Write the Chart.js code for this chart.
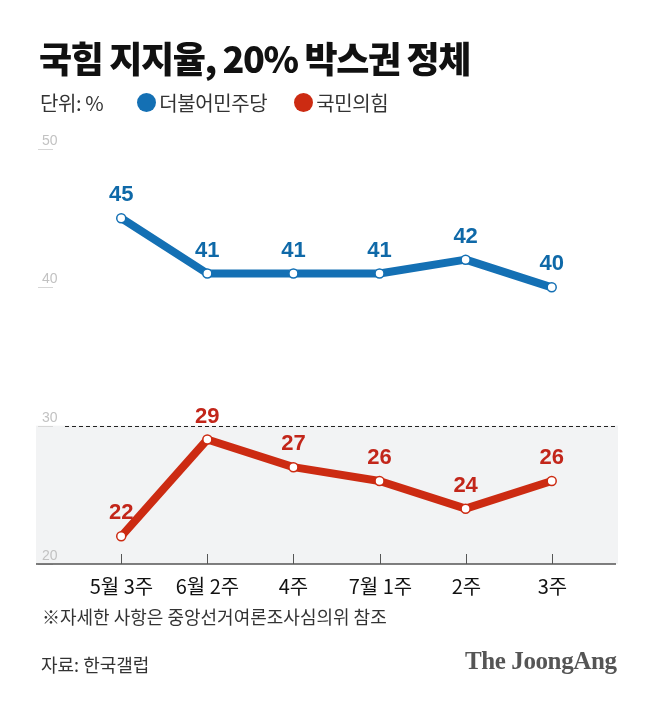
<!DOCTYPE html>
<html>
<head>
<meta charset="utf-8">
<script src="https://cdn.jsdelivr.net/npm/chart.js@4"></script>
<style>
  body { margin: 0; background: #fff; width: 658px; height: 703px; overflow: hidden; position: relative; font-family: "Noto Sans CJK KR", sans-serif; }
  #wrap { position: absolute; left: 0; top: 0; width: 658px; height: 703px; }
  .txt { position: absolute; white-space: nowrap; }
  #title { left: 39px; top: 31px; font-size: 36px; font-weight: 900; color: #111; letter-spacing: -1.4px; }
  #legend { left: 40px; top: 88px; font-size: 20px; color: #333; letter-spacing: -0.4px; display: flex; align-items: center; }
  .dot { display: inline-block; width: 19px; height: 19px; border-radius: 50%; margin-right: 3px; }
  #note { left: 42px; top: 603px; font-size: 18px; color: #333; letter-spacing: 0px; }
  #source { left: 41px; top: 651px; font-size: 18px; color: #333; letter-spacing: 0px; }
  #logo { left: 465px; top: 647px; font-size: 25px; font-weight: 700; color: #555; font-family: "Liberation Serif", serif; letter-spacing: -0.4px; }
</style>
</head>
<body>
<div id="wrap"><canvas id="mycanvas" width="658" height="703"></canvas></div>
<div class="txt" id="title">국힘 지지율, 20% 박스권 정체</div>
<div class="txt" id="legend">
  <span>단위:&nbsp;%</span>
  <span class="dot" style="background:#1470b4;margin-left:34px"></span><span>더불어민주당</span>
  <span class="dot" style="background:#cc2b12;margin-left:27px"></span><span>국민의힘</span>
</div>
<div class="txt" id="note">※자세한 사항은 중앙선거여론조사심의위 참조</div>
<div class="txt" id="source">자료: 한국갤럽</div>
<div class="txt" id="logo">The JoongAng</div>
<script>
var weeks = ['5월 3주', '6월 2주', '4주', '7월 1주', '2주', '3주'];
var minjoo = [45, 41, 41, 41, 42, 40];
var ppp = [22, 29, 27, 26, 24, 26];
var yTicks = [50, 40, 30, 20];

var blue = '#1470b4';
var red = '#cc2b12';

function pts(vals) {
  var out = [];
  for (var i in vals) {
    out.push({ x: Number(i), y: vals[i] });
  }
  return out;
}

// gray band, dashed line, base line, axis labels
var backdrop = {
  id: 'backdrop',
  beforeDatasetsDraw: function(chart) {
    var ctx = chart.ctx;
    var a = chart.chartArea;
    var x = chart.scales.x;
    var y = chart.scales.y;
    ctx.save();

    ctx.fillStyle = '#f2f3f4';
    ctx.fillRect(a.left, y.getPixelForValue(30), a.right - a.left, y.getPixelForValue(20) - y.getPixelForValue(30));

    ctx.strokeStyle = '#222';
    ctx.lineWidth = 1;
    ctx.setLineDash([4, 3]);
    ctx.beginPath();
    ctx.moveTo(a.left + 29, Math.round(y.getPixelForValue(30)) + 0.5);
    ctx.lineTo(a.right, Math.round(y.getPixelForValue(30)) + 0.5);
    ctx.stroke();
    ctx.setLineDash([]);

    // y labels
    ctx.font = '14px "Liberation Sans", sans-serif';
    ctx.textAlign = 'left';
    ctx.textBaseline = 'alphabetic';
    for (var t of yTicks) {
      var py = Math.round(y.getPixelForValue(t));
      ctx.fillStyle = '#c2c2c2';
      ctx.fillText(String(t), a.left + 6, py - 4);
      ctx.strokeStyle = '#d6d6d6';
      ctx.beginPath();
      ctx.moveTo(a.left + 2, py + 0.5);
      ctx.lineTo(a.left + 17, py + 0.5);
      ctx.stroke();
    }

    // base line and ticks
    var by = Math.round(y.getPixelForValue(20));
    ctx.strokeStyle = '#555';
    ctx.lineWidth = 1.5;
    ctx.beginPath();
    ctx.moveTo(a.left, by);
    ctx.lineTo(a.right - 2, by);
    ctx.stroke();
    ctx.lineWidth = 1;
    ctx.font = '20px "Noto Sans CJK KR", sans-serif';
    ctx.textAlign = 'center';
    ctx.textBaseline = 'middle';
    ctx.fillStyle = '#111';
    for (var i in weeks) {
      var px = Math.round(x.getPixelForValue(Number(i))) + 0.5;
      ctx.beginPath();
      ctx.moveTo(px, by - 10);
      ctx.lineTo(px, by);
      ctx.stroke();
      ctx.fillText(weeks[i], px, by + 22);
    }
    ctx.restore();
  },
  afterDatasetsDraw: function(chart) {
    var ctx = chart.ctx;
    ctx.save();
    ctx.font = 'bold 22px "Liberation Sans", sans-serif';
    ctx.textAlign = 'center';
    ctx.textBaseline = 'middle';
    chart.data.datasets.forEach(function(ds, k) {
      var meta = chart.getDatasetMeta(k);
      ctx.fillStyle = ds.labelColor;
      meta.data.forEach(function(p, i) {
        ctx.fillText(String(ds.data[i].y), p.x, p.y - 23);
      });
    });
    ctx.restore();
  }
};

var chartdata = {
  datasets: [
    {
      label: '더불어민주당',
      data: pts(minjoo),
      borderColor: blue,
      labelColor: '#0f69a8',
      borderWidth: 8,
      pointRadius: 4.5,
      pointBackgroundColor: '#fff',
      pointBorderColor: blue,
      pointBorderWidth: 1.5,
      borderJoinStyle: 'round',
      borderCapStyle: 'round',
      tension: 0,
      clip: false
    },
    {
      label: '국민의힘',
      data: pts(ppp),
      borderColor: red,
      labelColor: '#c2261a',
      borderWidth: 8,
      pointRadius: 4.5,
      pointBackgroundColor: '#fff',
      pointBorderColor: red,
      pointBorderWidth: 1.5,
      borderJoinStyle: 'round',
      borderCapStyle: 'round',
      tension: 0,
      clip: false
    }
  ]
};

var ctx = document.getElementById('mycanvas');
var lineGraph = new Chart(ctx, {
  type: 'line',
  data: chartdata,
  options: {
    responsive: false,
    animation: false,
    devicePixelRatio: 1,
    layout: { padding: { left: 36, right: 40, top: 149, bottom: 139 } },
    scales: {
      x: { type: 'linear', min: -0.99, max: 5.77, display: false },
      y: { min: 20, max: 50, display: false }
    },
    plugins: { legend: { display: false }, tooltip: { enabled: false } }
  },
  plugins: [backdrop]
});
</script>
</body>
</html>
